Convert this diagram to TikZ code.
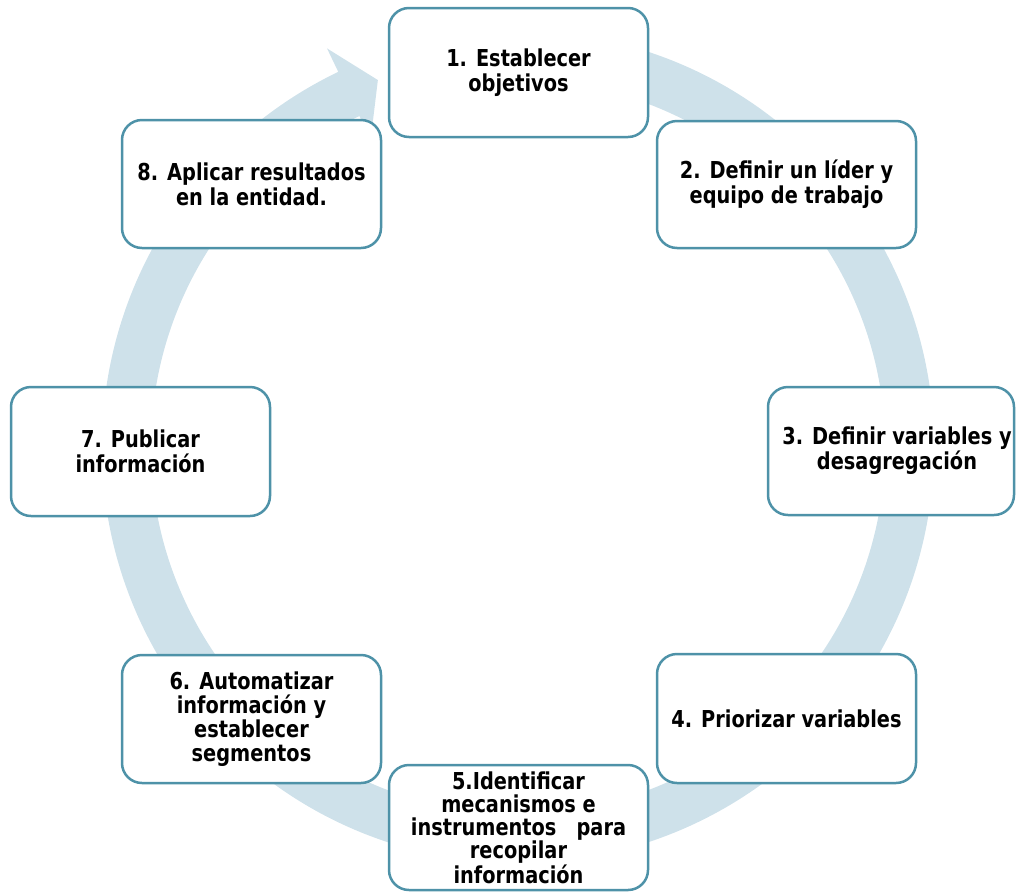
\documentclass[tikz,border=0pt]{standalone}
\usepackage{fontspec}
\setmainfont{DejaVu Sans}
\definecolor{ringcol}{RGB}{206,225,234}
\definecolor{edgecol}{RGB}{78,146,168}
\tikzset{
  box/.style={draw=edgecol, line width=2.5pt, rounded corners=20pt, fill=white,
    inner sep=0pt, minimum width=259pt},
  lbl/.style={align=center, inner sep=0pt, xscale=0.83, transform shape,
    font=\fontsize{23.3}{25}\selectfont\bfseries}
}
\begin{document}
\begin{tikzpicture}[x=1pt,y=-1pt]
\useasboundingbox (0,0) rectangle (1016,892);
% circular arrow ring
\begin{scope}[shift={(518,447)}, y=1pt]
\fill[ringcol] (85:416) arc[start angle=85, end angle=-244.4, radius=416]
  -- (-244.4:442) -- (-249.1:392.8) -- (-244.4:341) -- (-244.4:367)
  arc[start angle=-244.4, end angle=85, radius=367] -- cycle;
\end{scope}
% boxes
\node[box, minimum height=129pt] (b1) at (518.5,72.5) {};
\node[box, minimum height=127pt] (b2) at (786.5,184.5) {};
\node[box, minimum width=246pt, minimum height=128pt] (b3) at (891,451) {};
\node[box, minimum height=129pt] (b4) at (786.5,718.5) {};
\node[box, minimum height=125pt] (b5) at (518.5,827.5) {};
\node[box, minimum height=128pt] (b6) at (251.5,719) {};
\node[box, minimum height=129pt] (b7) at (140.5,451.5) {};
\node[box, minimum height=128pt] (b8) at (251.5,184) {};
% labels
\coordinate (c3) at (897,451);
\node[lbl] (t1) at (b1.center) {1. Establecer\\objetivos};
\node[lbl] (t2) at (b2.center) {2. Definir un líder y\\equipo de trabajo};
\node[lbl] (t3) at (c3) {3. Definir variables y\\desagregación};
\node[lbl] (t4) at (b4.center) {4. Priorizar variables};
\node[lbl, font=\fontsize{23.3}{23.3}\selectfont\bfseries] (t5) at (b5.center)
  {5.Identificar\\mecanismos e\\instrumentos\ \ \ para\\recopilar\\información};
\node[lbl, font=\fontsize{23.3}{24}\selectfont\bfseries] (t6) at (b6.center)
  {6. Automatizar\\información y\\establecer\\segmentos};
\node[lbl] (t7) at (b7.center) {7. Publicar\\información};
\node[lbl] (t8) at (b8.center) {8. Aplicar resultados\\en la entidad.};
\end{tikzpicture}
\end{document}
